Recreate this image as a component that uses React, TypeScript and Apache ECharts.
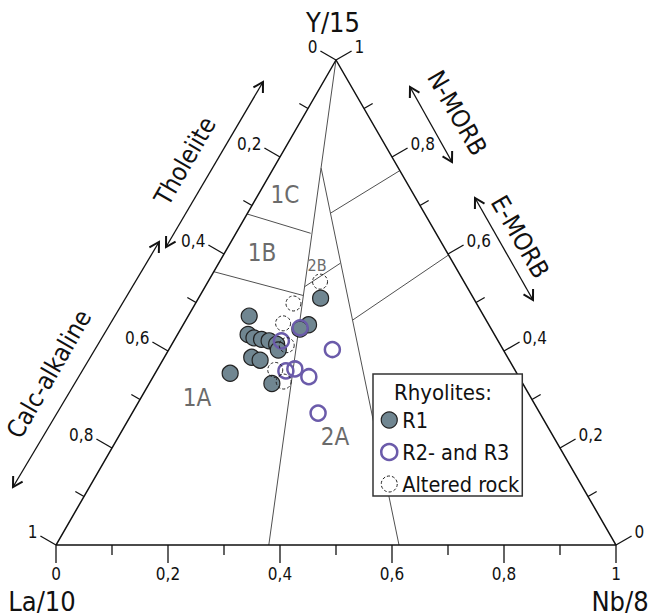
import React, { useEffect, useRef } from 'react';
import * as echarts from 'echarts';

const FONT = "'Liberation Sans Narrow', 'DejaVu Sans Condensed', 'Arial Narrow', sans-serif";
const SQ = Math.sqrt(3) / 2;

// Each point: [La/10, Y/15, Nb/8] as fractions of the sum
const r1Points = [
  [0.273, 0.509, 0.218], [0.419, 0.472, 0.109], [0.439, 0.434, 0.126], [0.433, 0.427, 0.140],
  [0.421, 0.424, 0.155], [0.409, 0.421, 0.170], [0.399, 0.414, 0.187], [0.402, 0.402, 0.196],
  [0.323, 0.454, 0.224], [0.342, 0.445, 0.213], [0.457, 0.387, 0.156], [0.445, 0.381, 0.174],
  [0.512, 0.354, 0.134], [0.448, 0.333, 0.219],
];
const r23Points = [
  [0.340, 0.448, 0.212], [0.388, 0.421, 0.192], [0.305, 0.403, 0.292], [0.410, 0.359, 0.231],
  [0.392, 0.363, 0.245], [0.375, 0.347, 0.278], [0.396, 0.272, 0.332],
];
const alteredPoints = [
  [0.257, 0.543, 0.200], [0.327, 0.498, 0.175], [0.366, 0.457, 0.177], [0.382, 0.412, 0.206],
  [0.428, 0.361, 0.211], [0.394, 0.337, 0.238],
];

const frame = [[1, 0, 0], [0, 0, 1], [0, 1, 0], [1, 0, 0]];
const boundaries = [
  [[0, 1, 0], [0.62, 0, 0.38]],
  [[0.138, 0.777, 0.085], [0.3875, 0, 0.6125]],
  [[0.3175, 0.6825, 0], [0.2238, 0.6427, 0.1335]],
  [[0.4365, 0.5635, 0], [0.3011, 0.5144, 0.1845]],
  [[0.2898, 0.5326, 0.1776], [0.2017, 0.581, 0.2173]],
  [[0.168, 0.684, 0.148], [0, 0.772, 0.228]],
  [[0.238, 0.464, 0.298], [0, 0.598, 0.402]],
];

const tickValues = [0, 0.1, 0.2, 0.3, 0.4, 0.5, 0.6, 0.7, 0.8, 0.9, 1];
const tickLabels = ['0', '0,2', '0,4', '0,6', '0,8', '1'];

const seriesNames = ['R1', 'R2- and R3', 'Altered rock'];

const toXY = (p: number[]) => [p[2] + p[1] / 2, p[1] * SQ];

function arrow(p1: number[], p2: number[]) {
  const dx = p2[0] - p1[0], dy = p2[1] - p1[1];
  const L = Math.hypot(dx, dy);
  const ux = dx / L, uy = dy / L;
  const head = (tip: number[], u: number[]) => {
    const a = Math.PI / 6, len = 11;
    const r = (ang: number) => [u[0] * Math.cos(ang) - u[1] * Math.sin(ang), u[0] * Math.sin(ang) + u[1] * Math.cos(ang)];
    const r1 = r(a), r2 = r(-a);
    return {
      type: 'polyline',
      shape: { points: [[tip[0] - r1[0] * len, tip[1] - r1[1] * len], tip, [tip[0] - r2[0] * len, tip[1] - r2[1] * len]] },
      style: { stroke: '#111', lineWidth: 2, fill: 'none' },
    };
  };
  return [
    { type: 'line', shape: { x1: p1[0], y1: p1[1], x2: p2[0], y2: p2[1] }, style: { stroke: '#111', lineWidth: 1.3 } },
    head(p2, [ux, uy]),
    head(p1, [-ux, -uy]),
  ];
}

function txt(text: string, x: number, y: number, size: number, opts: any = {}) {
  return {
    type: 'text', x, y, rotation: opts.rotation || 0, z: 10,
    style: {
      text, font: `${size}px ${FONT}`, fill: opts.fill || '#111',
      align: opts.align || 'center', verticalAlign: 'middle',
    },
  };
}

export default function App() {
  const ref = useRef<HTMLDivElement>(null);
  useEffect(() => {
    if (!ref.current) return;
    const chart = echarts.init(ref.current, null, { renderer: 'svg' });

    const tickData: number[][] = [];
    tickValues.forEach((v, i) => {
      tickData.push([v, 0, 0, i]);
      tickData.push([(1 - v) / 2, (1 - v) * SQ, 1, i]);
      tickData.push([1 - v / 2, v * SQ, 2, i]);
    });

    const lineSeries = (data: number[][], color: string, width: number) => ({
      type: 'line', data: data.map(toXY), symbol: 'none', clip: false, silent: true,
      lineStyle: { color, width }, z: 1,
    });

    const regionLabelColor = '#6b6b6b';

    chart.setOption({
      animation: false,
      grid: { left: 56, top: 60, width: 560, height: 485 },
      xAxis: { type: 'value', min: 0, max: 1, show: false },
      yAxis: { type: 'value', min: 0, max: SQ, show: false },
      legend: {
        left: 373, top: 374, orient: 'vertical',
        padding: [35, 3, 1, 7], itemGap: 10, itemWidth: 16, itemHeight: 16,
        backgroundColor: '#fff', borderColor: '#333', borderWidth: 1.5, borderRadius: 0,
        textStyle: { fontSize: 21.5, fontFamily: FONT, color: '#111' },
        data: [
          { name: seriesNames[0], icon: 'circle', itemStyle: { color: '#708691', borderColor: '#222', borderWidth: 1.2 } },
          { name: seriesNames[1], icon: 'circle', itemStyle: { color: 'rgba(0,0,0,0)', borderColor: '#6b5baa', borderWidth: 2.5 } },
          { name: seriesNames[2], icon: 'circle', itemStyle: { color: 'rgba(0,0,0,0)', borderColor: '#222', borderWidth: 1, borderType: [3, 2] } },
        ],
        selectedMode: false,
      },
      series: [
        ...boundaries.map((b) => lineSeries(b, '#505050', 1)),
        lineSeries(frame, '#111', 1.5),
        {
          type: 'custom', data: tickData, silent: true, z: 3,
          renderItem: (params: any, api: any) => {
            const x = api.value(0), y = api.value(1), side = api.value(2), idx = api.value(3);
            const p = api.coord([x, y]);
            const dir = side === 0 ? [0, 1] : side === 1 ? [-0.866, -0.5] : [0.866, -0.5];
            const major = idx % 2 === 0;
            const len = major ? 18 : 10;
            const ex = p[0] + dir[0] * len, ey = p[1] + dir[1] * len;
            const children: any[] = [
              { type: 'line', shape: { x1: p[0], y1: p[1], x2: ex, y2: ey }, style: { stroke: '#111', lineWidth: 1.3 } },
            ];
            if (major) {
              const label = tickLabels[idx / 2];
              let tx = ex, ty = ey, align = 'center';
              if (side === 0) { ty = ey + 11; }
              else if (side === 1) { tx = ex - 3; ty = ey - 4; align = 'right'; }
              else { tx = ex + 3; ty = ey - 4; align = 'left'; }
              children.push({
                type: 'text', x: tx, y: ty,
                style: { text: label, font: `17px ${FONT}`, fill: '#111', align, verticalAlign: 'middle' },
              });
            }
            return { type: 'group', children };
          },
        },
        {
          name: seriesNames[0], type: 'scatter', data: r1Points.map(toXY), symbol: 'circle', symbolSize: 16, clip: false, z: 4,
          itemStyle: { color: '#708691', borderColor: '#222', borderWidth: 1.2, opacity: 1 },
        },
        {
          name: seriesNames[1], type: 'scatter', data: r23Points.map(toXY), symbol: 'circle', symbolSize: 15, clip: false, z: 5,
          itemStyle: { color: 'rgba(0,0,0,0)', borderColor: '#6b5baa', borderWidth: 2.5, opacity: 1 },
        },
        {
          name: seriesNames[2], type: 'scatter', data: alteredPoints.map(toXY), symbol: 'circle', symbolSize: 15, clip: false, z: 6,
          itemStyle: { color: 'rgba(0,0,0,0)', borderColor: '#222', borderWidth: 1, borderType: [3, 2], opacity: 1 },
        },
      ],
      graphic: [
        txt('Y/15', 333, 22, 27),
        txt('La/10', 42, 601, 27),
        txt('Nb/8', 620, 601, 27),
        txt('1C', 285, 195, 24, { fill: regionLabelColor }),
        txt('1B', 262, 253, 24, { fill: regionLabelColor }),
        txt('1A', 197, 398, 24, { fill: regionLabelColor }),
        txt('2A', 335, 437, 24, { fill: regionLabelColor }),
        txt('2B', 317, 265, 16, { fill: regionLabelColor }),
        txt('Tholeiite', 185, 161, 25, { rotation: Math.PI / 3 }),
        txt('Calc-alkaline', 49, 374, 25, { rotation: Math.PI / 3 }),
        txt('N-MORB', 457, 113, 25, { rotation: -Math.PI / 3 }),
        txt('E-MORB', 520, 237, 25, { rotation: -Math.PI / 3 }),
        { type: 'group', z: 10, children: [
          ...arrow([13, 487], [159, 242]),
          ...arrow([166, 247], [263, 82]),
          ...arrow([410, 87], [452, 162]),
          ...arrow([475, 198], [533, 300]),
        ] },
        { type: 'text', x: 443, y: 392, z: 100,
          style: { text: 'Rhyolites:', font: `22px ${FONT}`, fill: '#111', align: 'center', verticalAlign: 'middle' } },
      ],
    });
    return () => chart.dispose();
  }, []);
  return <div ref={ref} style={{ position: 'fixed', left: 0, top: 0, width: 652, height: 616, background: '#fff' }} />;
}
